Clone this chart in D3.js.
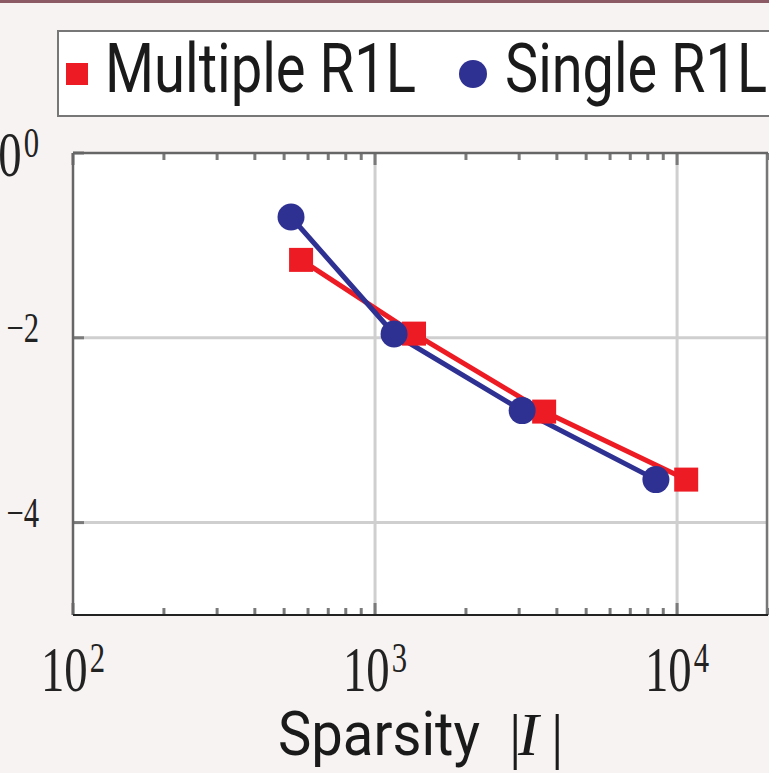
<!DOCTYPE html>
<html>
<head>
<meta charset="utf-8">
<script src="https://cdn.jsdelivr.net/npm/d3@7"></script>
<style>
  html, body { margin: 0; padding: 0; background: #f7f3f2; overflow: hidden; }
  svg { display: block; }
</style>
</head>
<body>
<svg width="769" height="773"></svg>
<script>
// data
const sparsityMulti = [569, 1346, 3630, 10720];
const errorMulti = [0.0697, 0.0111, 0.00159, 0.000292];
const sparsitySingle = [527, 1156, 3069, 8510];
const errorSingle = [0.203, 0.0110, 0.00163, 0.000292];

const xTickValues = [1e2, 1e3, 1e4];
const xTickExp = ['2', '3', '4'];
const yTickValues = [1e0, 1e-2, 1e-4];
const yTickExp = ['0', '\u22122', '\u22124'];
const seriesNames = ['Multiple R1L', 'Single R1L'];

const red = '#ed1c24';
const blue = '#2e3192';

const svg = d3.select('svg');
const W = 769, H = 773;

// top border strip
svg.append('rect').attr('x', 0).attr('y', 0).attr('width', W).attr('height', 3).style('fill', '#8c5a64');

const pLeft = 73, pRight = 768, pTop = 153, pBottom = 615;
const x = d3.scaleLog().domain([1e2, 2e4]).range([pLeft, pRight]);
const y = d3.scaleLog().domain([1e-5, 1]).range([pBottom, pTop]);

// plot area
svg.append('rect').
    attr('x', pLeft).attr('y', pTop).
    attr('width', pRight - pLeft).attr('height', pBottom - pTop).
    style('fill', 'white');

// grid
const grid = svg.append('g');
[1e3, 1e4].forEach(v => {
    grid.append('line').
        attr('x1', x(v)).attr('x2', x(v)).attr('y1', pTop).attr('y2', pBottom).
        style('stroke', '#cfcfcf').style('stroke-width', 3);
});
[1e-2, 1e-4].forEach(v => {
    grid.append('line').
        attr('x1', pLeft).attr('x2', pRight).attr('y1', y(v)).attr('y2', y(v)).
        style('stroke', '#cfcfcf').style('stroke-width', 3);
});

// minor + major x ticks on bottom and top
const minorX = [];
for (let d = 100; d < 2e4; d *= 10) {
    for (let m = 2; m <= 9; m++) {
        if (d * m <= 2e4) minorX.push(d * m);
    }
}
const ticks = svg.append('g').style('stroke', '#7a7a7a').style('stroke-width', 3);
minorX.forEach(v => {
    ticks.append('line').attr('x1', x(v)).attr('x2', x(v)).attr('y1', pBottom).attr('y2', pBottom - 7);
    ticks.append('line').attr('x1', x(v)).attr('x2', x(v)).attr('y1', pTop).attr('y2', pTop + 7);
});
xTickValues.forEach(v => {
    ticks.append('line').attr('x1', x(v)).attr('x2', x(v)).attr('y1', pBottom).attr('y2', pBottom - 12);
    ticks.append('line').attr('x1', x(v)).attr('x2', x(v)).attr('y1', pTop).attr('y2', pTop + 12);
});
yTickValues.forEach(v => {
    ticks.append('line').attr('x1', pLeft).attr('x2', pLeft + 11).attr('y1', y(v)).attr('y2', y(v));
});

// axis box
svg.append('line').attr('x1', pLeft).attr('x2', pLeft).attr('y1', pTop).attr('y2', pBottom).
    style('stroke', '#666').style('stroke-width', 2.5);
svg.append('line').attr('x1', pRight - 1).attr('x2', pRight - 1).attr('y1', pTop).attr('y2', pBottom).
    style('stroke', '#777').style('stroke-width', 2.5);
svg.append('line').attr('x1', pLeft).attr('x2', pRight).attr('y1', pTop).attr('y2', pTop).
    style('stroke', '#666').style('stroke-width', 2.5);
svg.append('line').attr('x1', pLeft).attr('x2', pRight).attr('y1', pBottom).attr('y2', pBottom).
    style('stroke', '#222').style('stroke-width', 2);

// power-of-ten labels: one text, "10" plus a raised exponent, squeezed sideways
const serif = '"Liberation Serif", "DejaVu Serif", serif';
const squeeze = 0.73;
const powerLabel = (px, py, exp, anchor) => {
    const t = svg.append('text').
        attr('transform', 'translate(' + px + ',' + py + ') scale(' + squeeze + ',1)').
        attr('text-anchor', anchor).
        style('font-family', serif).style('font-size', '64px').style('fill', '#222');
    t.append('tspan').text('10');
    // negative exponents get a wider gap (the minus sign is wider in the source font)
    t.append('tspan').attr('dx', exp.length > 1 ? 11 : 3).attr('dy', -19).style('font-size', '42px').text(exp);
};

xTickValues.forEach((v, i) => powerLabel(x(v), 691, xTickExp[i], 'middle'));
// y labels sit partly off the left edge, as in the source
yTickValues.forEach((v, i) => powerLabel(39, y(v) + 23, yTickExp[i], 'end'));

// series lines
const line = d3.line().x(d => x(d[0])).y(d => y(d[1]));
const multi = d3.zip(sparsityMulti, errorMulti);
const single = d3.zip(sparsitySingle, errorSingle);

svg.append('path').datum(multi).attr('d', line).
    style('fill', 'none').style('stroke', red).style('stroke-width', 5);
svg.append('path').datum(single).attr('d', line).
    style('fill', 'none').style('stroke', blue).style('stroke-width', 5);

const sq = 24;
svg.selectAll('rect.multi').data(multi).enter().append('rect').
    attr('class', 'multi').
    attr('x', d => x(d[0]) - sq / 2).attr('y', d => y(d[1]) - sq / 2).
    attr('width', sq).attr('height', sq).
    style('fill', red);
svg.selectAll('circle.single').data(single).enter().append('circle').
    attr('class', 'single').
    attr('cx', d => x(d[0])).attr('cy', d => y(d[1])).attr('r', 13.5).
    style('fill', blue);

// legend
const sans = 'Roboto, "Noto Sans", sans-serif';
const legend = svg.append('g');
legend.append('rect').attr('x', 58).attr('y', 31).attr('width', 800).attr('height', 85).
    style('fill', 'white').style('stroke', '#777').style('stroke-width', 2);
legend.append('rect').attr('x', 66).attr('y', 63).attr('width', 22).attr('height', 22).style('fill', red);
legend.append('text').attr('x', 105).attr('y', 92).
    attr('textLength', 311).attr('lengthAdjust', 'spacingAndGlyphs').
    style('font-family', sans).style('font-size', '68px').style('fill', '#1a1a1a').
    text(seriesNames[0]);
legend.append('circle').attr('cx', 473).attr('cy', 74).attr('r', 14).style('fill', blue);
legend.append('text').attr('x', 505).attr('y', 92).
    attr('textLength', 262).attr('lengthAdjust', 'spacingAndGlyphs').
    style('font-family', sans).style('font-size', '68px').style('fill', '#1a1a1a').
    text(seriesNames[1]);

// x axis label
svg.append('text').attr('x', 278).attr('y', 755).
    attr('textLength', 202).attr('lengthAdjust', 'spacingAndGlyphs').
    style('font-family', sans).style('font-size', '62px').style('fill', '#1a1a1a').
    text('Sparsity');
svg.append('text').attr('x', 509).attr('y', 757).
    style('font-family', serif).style('font-size', '62px').style('fill', '#1a1a1a').
    text('|');
svg.append('text').attr('x', 518).attr('y', 755).
    style('font-family', serif).style('font-style', 'italic').style('font-size', '62px').style('fill', '#1a1a1a').
    text('I');
svg.append('text').attr('x', 551).attr('y', 757).
    style('font-family', serif).style('font-size', '62px').style('fill', '#1a1a1a').
    text('|');
</script>
</body>
</html>
